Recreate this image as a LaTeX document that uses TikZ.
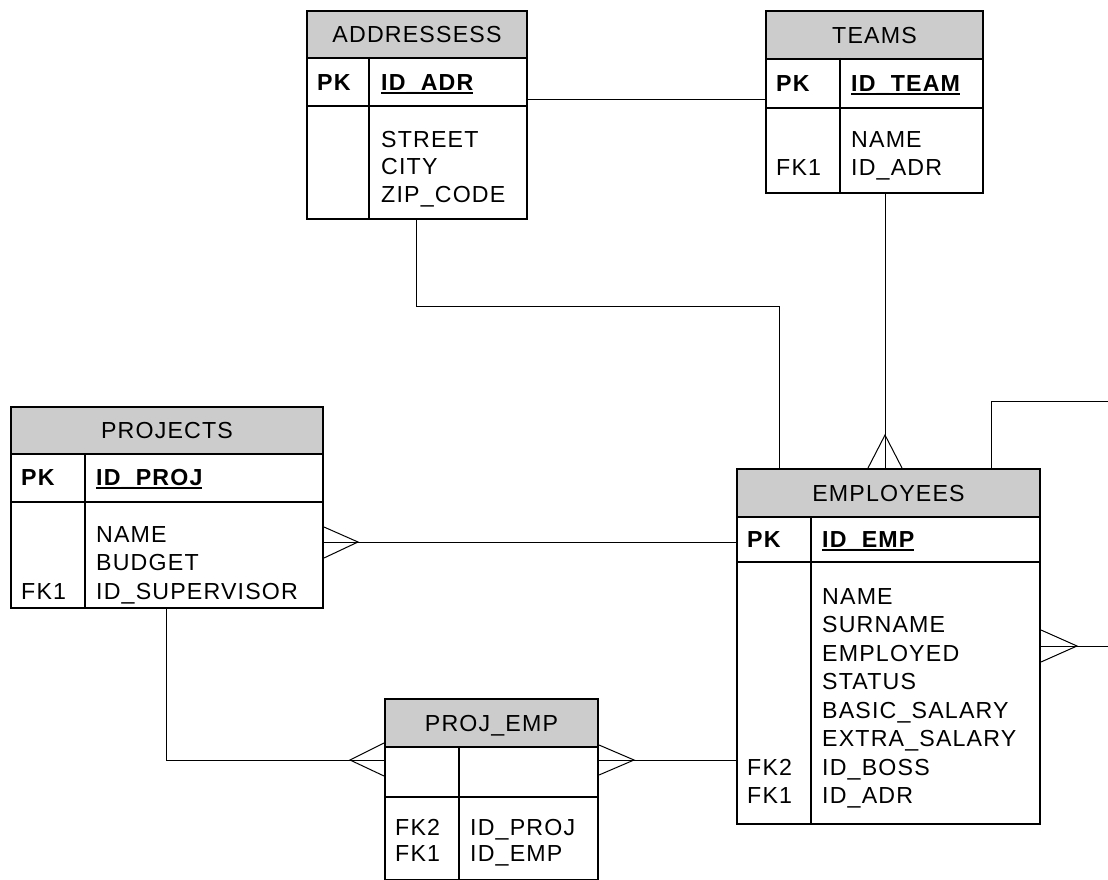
\documentclass[tikz,border=0pt]{standalone}
\usepackage{fontspec}
\setmainfont{Liberation Sans}[LetterSpace=5]
\usetikzlibrary{calc}

\definecolor{headgray}{RGB}{204,204,204}

\tikzset{
  tbl/.style={draw, line width=2pt, fill=white, rectangle, anchor=north west, inner sep=0pt},
  tblhead/.style={tbl, fill=headgray, text height=16.6pt, text depth=0pt, font=\tabfont},
  tblline/.style={line width=2pt},
  field/.style={anchor=west, inner sep=0pt, text height=16.6pt, text depth=0pt, font=\tabfont},
  pkfield/.style={field, font=\tabfont\bfseries},
  rel/.style={line width=1pt}
}

\newcommand{\tabfont}{\fontsize{23.2}{28}\selectfont}
\newcommand{\keyname}[1]{\setbox0=\hbox{\bfseries #1}\rlap{\rule[-4pt]{\wd0}{2pt}}\box0}
% name, x, y, width, height, divider, header height, key row height, title
\newcommand{\dbtable}[9]{
  \node[tbl, minimum width=#4pt, minimum height=#5pt] (#1) at (#2,#3) {};
  \node[tblhead, minimum width=#4pt, minimum height=#7pt] (#1-h) at (#2,#3) {#9};
  \draw[tblline] (#2,#3+#7+#8) -- (#2+#4,#3+#7+#8);
  \draw[tblline] (#2+#6,#3+#7) -- (#2+#6,#3+#5);
}

\begin{document}
\begin{tikzpicture}[x=1pt, y=-1pt]
  \useasboundingbox (0,0) rectangle (1108,880);

  % tables
  \dbtable{adr}{306}{10}{220}{208}{63}{47}{49}{ADDRESSESS}
  \node[pkfield] (adr-pk) at (317,82) {PK};
  \node[field] (adr-id) at (381,82) {\keyname{ID\_ADR}};
  \foreach \f [count=\i from 0] in {STREET,CITY,ZIP\_CODE}
    \node[field] (adr-f\i) at (381,139+27.5*\i) {\f};

  \dbtable{team}{765}{10}{217}{182}{75}{48}{50}{TEAMS}
  \node[pkfield] (team-pk) at (776,83) {PK};
  \node[field] (team-id) at (851,83) {\keyname{ID\_TEAM}};
  \node[field] (team-f0) at (851,139) {NAME};
  \node[field] (team-f1) at (851,167) {ID\_ADR};
  \node[field] (team-fk1) at (776,167) {FK1};

  \dbtable{emp}{736}{468}{303}{355}{75}{48}{46}{EMPLOYEES}
  \node[pkfield] (emp-pk) at (747,539) {PK};
  \node[field] (emp-id) at (822,539) {\keyname{ID\_EMP}};
  \foreach \f [count=\i from 0] in {NAME,SURNAME,EMPLOYED,STATUS,BASIC\_SALARY,EXTRA\_SALARY,ID\_BOSS,ID\_ADR}
    \node[field] (emp-f\i) at (822,596+28.5*\i) {\f};
  \node[field] (emp-fk2) at (747,767) {FK2};
  \node[field] (emp-fk1) at (747,795.5) {FK1};

  \dbtable{proj}{10}{406}{312}{201}{75}{47}{49}{PROJECTS}
  \node[pkfield] (proj-pk) at (21,477) {PK};
  \node[field] (proj-id) at (96,477) {\keyname{ID\_PROJ}};
  \foreach \f [count=\i from 0] in {NAME,BUDGET,ID\_SUPERVISOR}
    \node[field] (proj-f\i) at (96,534+28.5*\i) {\f};
  \node[field] (proj-fk1) at (21,591) {FK1};

  \dbtable{pe}{384}{698}{213}{181}{75}{48}{51}{PROJ\_EMP}
  \node[field] (pe-f0) at (470,827) {ID\_PROJ};
  \node[field] (pe-f1) at (470,853) {ID\_EMP};
  \node[field] (pe-fk2) at (395,827) {FK2};
  \node[field] (pe-fk1) at (395,853) {FK1};

  % relationships
  \draw[rel] ($(adr.north east)+(0,90)$) -- ($(team.north west)+(0,90)$);
  \draw[rel] ($(adr.south west)+(110,0)$) -- ++(0,86) -| ($(emp.north west)+(43,0)$);

  \draw[rel] ($(team.south west)+(120,0)$) -- ($(emp.north west)+(149,0)$);
  \draw[rel] ($(emp.north west)+(132,0)$) -- ($(emp.north west)+(149,-33)$) -- ($(emp.north west)+(166,0)$);

  \coordinate (loop-t) at (1110,401);
  \coordinate (loop-b) at (1110,646);
  \draw[rel] ($(emp.north west)+(255,0)$) |- (loop-t);
  \draw[rel] (loop-b) -- ($(emp.north east)+(0,178)$);
  \draw[rel] ($(emp.north east)+(0,162)$) -- ($(emp.north east)+(36,178)$) -- ($(emp.north east)+(0,194)$);

  \draw[rel] ($(proj.north east)+(0,136)$) -- ($(emp.north west)+(0,74)$);
  \draw[rel] ($(proj.north east)+(0,121)$) -- ($(proj.north east)+(34,136)$) -- ($(proj.north east)+(0,152)$);

  \draw[rel] ($(proj.south west)+(156,0)$) |- ($(pe.north west)+(0,62)$);
  \draw[rel] ($(pe.north west)+(0,45)$) -- ($(pe.north west)+(-34,62)$) -- ($(pe.north west)+(0,78)$);

  \draw[rel] ($(pe.north east)+(0,62)$) -- ($(emp.north west)+(0,292)$);
  \draw[rel] ($(pe.north east)+(0,47)$) -- ($(pe.north east)+(35,62)$) -- ($(pe.north east)+(0,77)$);
\end{tikzpicture}
\end{document}
